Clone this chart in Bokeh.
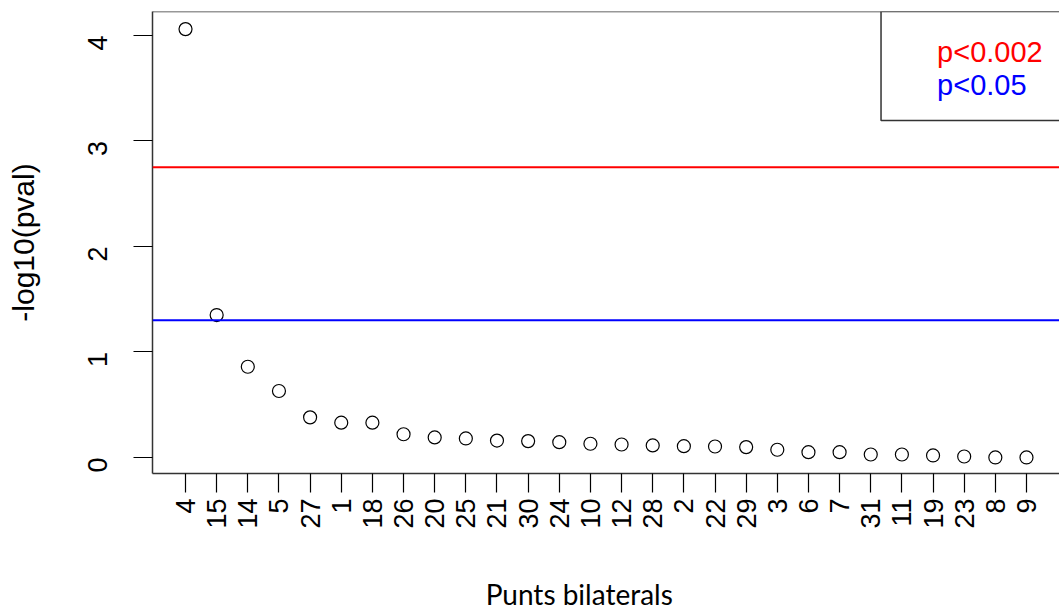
import math
from bokeh.plotting import figure
from bokeh.layouts import column
from bokeh.models import Range1d, FixedTicker, Span, BoxAnnotation, Label
from bokeh.embed import file_html
from bokeh.resources import INLINE

# ---- data ----
point_labels = ["4", "15", "14", "5", "27", "1", "18", "26", "20", "25", "21", "30", "24", "10",
                "12", "28", "2", "22", "29", "3", "6", "7", "31", "11", "19", "23", "8", "9"]
neg_log10_p = [4.06, 1.35, 0.86, 0.63, 0.38, 0.33, 0.33, 0.22, 0.19, 0.18, 0.16, 0.155, 0.145, 0.13,
               0.123, 0.114, 0.107, 0.104, 0.098, 0.073, 0.05, 0.05, 0.028, 0.028, 0.019, 0.009, 0.0, 0.0]
red_level = 2.75    # p<0.002
blue_level = 1.30   # p<0.05
legend_texts = ["p<0.002", "p<0.05"]
y_ticks = [0, 1, 2, 3, 4]
x_title = "Punts bilaterals"
y_title = "-log10(pval)"

FONT = "Liberation Sans"
xs = list(range(1, len(point_labels) + 1))

x_start, x_end = -0.06, 29.06
y_start, y_end = -0.152, 4.227
x_rng = Range1d(x_start, x_end)

TOP_H = 545
p = figure(width=1059, height=TOP_H, output_backend="svg", toolbar_location=None,
           x_range=x_rng, y_range=Range1d(y_start, y_end),
           min_border_left=152, min_border_right=0, min_border_top=11,
           min_border_bottom=TOP_H - 473)
p.outline_line_color = None
p.xgrid.visible = False
p.ygrid.visible = False
p.background_fill_color = "white"
p.border_fill_color = "white"

# x axis
xa = p.xaxis[0]
xa.ticker = FixedTicker(ticks=xs)
xa.major_label_overrides = {i: lab for i, lab in zip(xs, point_labels)}
xa.major_label_orientation = math.pi / 2
xa.major_label_text_font = FONT
xa.major_label_text_font_size = "27px"
xa.major_label_text_color = "black"
xa.major_label_standoff = 6
xa.major_tick_out = 19
xa.major_tick_in = 0
xa.minor_tick_line_color = None
xa.major_tick_line_color = "black"
xa.major_tick_line_width = 1.2
xa.axis_line_color = "#333333"
xa.axis_line_width = 1.5

# y axis
ya = p.yaxis[0]
ya.ticker = FixedTicker(ticks=y_ticks)
ya.major_label_orientation = math.pi / 2
ya.major_label_text_font = FONT
ya.major_label_text_font_size = "27px"
ya.major_label_text_color = "black"
ya.major_label_standoff = 36
ya.major_tick_out = 19
ya.major_tick_in = 0
ya.minor_tick_line_color = None
ya.major_tick_line_color = "black"
ya.major_tick_line_width = 1.2
ya.axis_line_color = "#333333"
ya.axis_line_width = 1.5
ya.axis_label = y_title
ya.axis_label_text_font = FONT
ya.axis_label_text_font_size = "30px"
ya.axis_label_text_font_style = "normal"
ya.axis_label_text_color = "black"
ya.axis_label_standoff = 36

# top border of the box
p.add_layout(Span(location=y_end, dimension="width", line_color="#333333", line_width=1.5))

# threshold lines
p.add_layout(Span(location=red_level, dimension="width", line_color="#FF0000", line_width=2))
p.add_layout(Span(location=blue_level, dimension="width", line_color="#0000FF", line_width=2))

# points
p.scatter(xs, neg_log10_p, marker="circle", size=13, fill_color=None,
          line_color="black", line_width=1.2)

# legend box (top-right)
p.add_layout(BoxAnnotation(left=23.33, right=x_end + 1, bottom=3.194, top=y_end,
                           fill_color="white", fill_alpha=1.0,
                           line_color="#333333", line_alpha=1.0, line_width=1.5))
for txt, col, yy in zip(legend_texts, ["#FF0000", "#0000FF"], [3.84, 3.53]):
    p.add_layout(Label(x=25.13, y=yy, text=txt, text_color=col, text_font=FONT,
                       text_font_size="29px", text_baseline="middle", text_align="left"))

# caption strip below the chart carrying the x title
p2 = figure(width=1059, height=611 - TOP_H, output_backend="svg", toolbar_location=None,
            x_range=x_rng, y_range=Range1d(0, 1),
            min_border_left=152, min_border_right=0, min_border_top=0, min_border_bottom=0)
p2.outline_line_color = None
p2.axis.visible = False
p2.grid.visible = False
p2.border_fill_color = "white"
p2.add_layout(Label(x=13.64, x_units="data", y=18, y_units="screen", text=x_title,
                    text_font="Lato", text_font_size="28px", text_color="black",
                    text_align="center", text_baseline="alphabetic"))

layout = column(p, p2, spacing=0)
open("out.html", "w").write(file_html(layout, INLINE))
